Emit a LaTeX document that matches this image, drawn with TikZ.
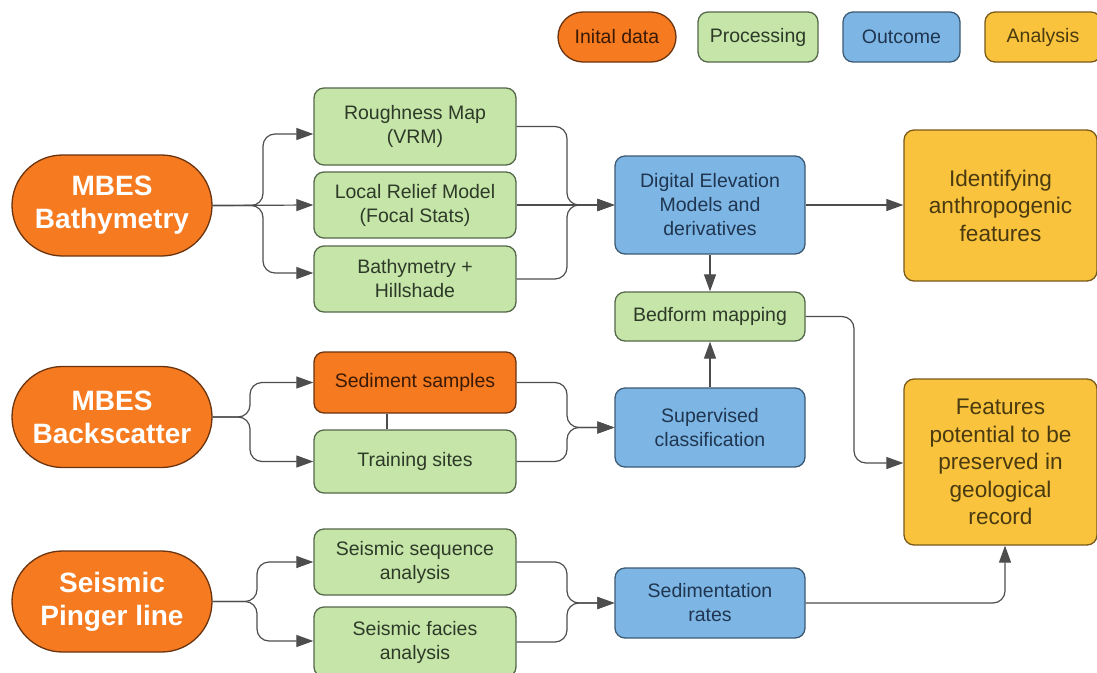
\documentclass[tikz,border=0pt]{standalone}
\usepackage{fontspec}
\setmainfont{Liberation Sans}
\usetikzlibrary{arrows.meta,shapes.misc}
\definecolor{orfill}{HTML}{F57A20}
\definecolor{ordraw}{HTML}{6B3410}
\definecolor{grfill}{HTML}{C6E5A9}
\definecolor{grdraw}{HTML}{55684A}
\definecolor{grtext}{HTML}{2D3A28}
\definecolor{blfill}{HTML}{7DB6E4}
\definecolor{bldraw}{HTML}{3D5A75}
\definecolor{bltext}{HTML}{1F3550}
\definecolor{yefill}{HTML}{F9C33D}
\definecolor{yedraw}{HTML}{7A5A1A}
\definecolor{yetext}{HTML}{4A3A10}
\definecolor{ortext}{HTML}{3A1A05}
\definecolor{conncol}{HTML}{4D4D4D}
\tikzset{
  base/.style={rectangle, rounded corners=10pt, draw, line width=1.3pt, align=center, inner sep=0pt,
    font=\fontsize{19.5}{24}\selectfont},
  init/.style={rounded rectangle, draw=ordraw, fill=orfill, line width=1.3pt, align=center, inner sep=0pt,
    text=white, font=\bfseries\fontsize{28}{33}\selectfont, minimum width=200pt, minimum height=101pt},
  proc/.style={base, fill=grfill, draw=grdraw, text=grtext, minimum width=202pt},
  sedbox/.style={base, fill=orfill, draw=ordraw, text=ortext, minimum width=202pt},
  outc/.style={base, fill=blfill, draw=bldraw, text=bltext, minimum width=190pt},
  anal/.style={base, fill=yefill, draw=yedraw, text=yetext, minimum width=193pt,
    font=\fontsize{22.6}{27.5}\selectfont},
  conn/.style={draw=conncol, line width=1.2pt, rounded corners=12pt},
  arr/.style={conn, -{Triangle[length=17pt,width=12pt]}},
  legtext/.style={font=\fontsize{19.5}{23}\selectfont}
}
\begin{document}
\begin{tikzpicture}[x=1pt,y=-1pt]
\useasboundingbox (0,0) rectangle (1097,672);
\clip (0,0) rectangle (1097,672);
\fill[white] (0,0) rectangle (1097,672);
% legend
\node[init, minimum width=118pt, minimum height=50pt, text=ortext, legtext] (leg1) at (617,37) {Inital data};
\node[proc, minimum width=120pt, minimum height=50pt, legtext] (leg2) at (758,37) {Processing};
\node[outc, minimum width=117pt, minimum height=50pt, legtext] (leg3) at (901.5,37) {Outcome};
\node[anal, minimum width=116pt, minimum height=50pt, legtext] (leg4) at (1043,37) {Analysis};
% row 1
\node[init] (bath) at (112,205.5) {MBES\\Bathymetry};
\node[proc, minimum height=77pt] (rough) at (415,126.5) {Roughness Map\\(VRM)};
\node[proc, minimum height=66pt] (lrm) at (415,205) {Local Relief Model\\(Focal Stats)};
\node[proc, minimum height=66pt] (bh) at (415,279) {Bathymetry +\\Hillshade};
\node[outc, minimum height=98pt] (dem) at (710,205) {Digital Elevation\\Models and\\derivatives};
\node[anal, minimum height=151pt] (ident) at (1000.5,205.5) {Identifying\\anthropogenic\\features};
\node[proc, minimum width=190pt, minimum height=49pt] (bed) at (710,316.5) {Bedform mapping};
% row 2
\node[init] (back) at (112,417) {MBES\\Backscatter};
\node[sedbox, minimum height=61pt] (sed) at (415,382.5) {Sediment samples};
\node[proc, minimum height=63pt] (train) at (415,461.5) {Training sites};
\node[outc, minimum height=79pt] (sup) at (710,427.5) {Supervised\\classification};
\node[anal, minimum height=166pt] (feat) at (1000.5,462) {Features\\potential to be\\preserved in\\geological\\record};
% row 3
\node[init] (seis) at (112,601.5) {Seismic\\Pinger line};
\node[proc, minimum height=66pt] (sseq) at (415,562) {Seismic sequence\\analysis};
\node[proc, minimum height=70pt] (sfac) at (415,642) {Seismic facies\\analysis};
\node[outc, minimum height=70pt] (sedr) at (710,603) {Sedimentation\\rates};
% connectors: bathymetry
\draw[arr] (bath.east) -- (263,205.5) -- (263,134) -- (rough.west |- 0,134);
\draw[arr] (bath.east) -- (lrm.west);
\draw[arr] (bath.east) -- (263,205.5) -- (263,273) -- (bh.west |- 0,273);
\draw[arr] (rough.east) -- (567,126.5) -- (567,205) -- (dem.west);
\draw[arr] (lrm.east) -- (dem.west);
\draw[arr] (bh.east) -- (567,279) -- (567,205) -- (dem.west);
\draw[arr] (dem.east) -- (ident.west |- dem.east);
\draw[arr] (dem.south) -- (bed.north);
\draw[arr] (sup.north) -- (bed.south);
\draw[arr] (bed.east) -- (854,316.5) -- (854,463) -- (feat.west |- 0,463);
% backscatter
\draw[arr] (back.east) -- (250,417) -- (250,382.5) -- (sed.west);
\draw[arr] (back.east) -- (250,417) -- (250,461.5) -- (train.west);
\draw[conn] ([xshift=-28pt]sed.south) -- ([xshift=-28pt]train.north);
\draw[arr] (sed.east) -- (567,382.5) -- (567,427.5) -- (sup.west);
\draw[arr] (train.east) -- (567,461.5) -- (567,427.5) -- (sup.west);
% seismic
\draw[arr] (seis.east) -- (257,601.5) -- (257,562) -- (sseq.west);
\draw[arr] (seis.east) -- (257,601.5) -- (257,641) -- (sfac.west |- 0,641);
\draw[arr] (sseq.east) -- (567,562) -- (567,603) -- (sedr.west);
\draw[arr] (sfac.east |- 0,642) -- (567,642) -- (567,603) -- (sedr.west);
\draw[arr] (sedr.east) -- (1005,603) -- ([xshift=4.5pt]feat.south);
\end{tikzpicture}
\end{document}
